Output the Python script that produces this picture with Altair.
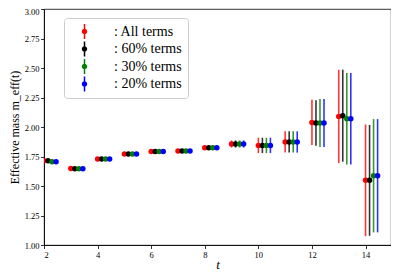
import altair as alt
import pandas as pd

# ---- data ----
t_values = [2, 3, 4, 5, 6, 7, 8, 9, 10, 11, 12, 13, 14]
series_names = ["All terms", "60% terms", "30% terms", "20% terms"]
series_colors = ["#ff0000", "#000000", "#008000", "#0000ff"]
series_shift = [0.0, 0.15, 0.30, 0.45]

m_all = [1.714, 1.649, 1.729, 1.771, 1.793, 1.796, 1.825, 1.856, 1.844, 1.873, 2.039, 2.090, 1.548]
m_60 = [1.714, 1.646, 1.729, 1.771, 1.793, 1.796, 1.825, 1.856, 1.844, 1.873, 2.034, 2.096, 1.548]
m_30 = [1.706, 1.646, 1.729, 1.771, 1.793, 1.796, 1.825, 1.856, 1.844, 1.873, 2.034, 2.070, 1.587]
m_20 = [1.706, 1.646, 1.729, 1.771, 1.793, 1.796, 1.825, 1.856, 1.844, 1.873, 2.034, 2.070, 1.587]

e_all = [0.005, 0.005, 0.006, 0.007, 0.008, 0.009, 0.012, 0.030, 0.065, 0.090, 0.192, 0.395, 0.473]
e_60 = [0.005, 0.005, 0.006, 0.007, 0.008, 0.009, 0.012, 0.030, 0.065, 0.090, 0.192, 0.390, 0.470]
e_30 = [0.005, 0.005, 0.006, 0.007, 0.008, 0.009, 0.012, 0.030, 0.065, 0.090, 0.203, 0.388, 0.480]
e_20 = [0.005, 0.005, 0.006, 0.007, 0.008, 0.009, 0.012, 0.030, 0.065, 0.090, 0.203, 0.388, 0.480]

x_ticks = [2, 4, 6, 8, 10, 12, 14]
y_ticks = [1.00, 1.25, 1.50, 1.75, 2.00, 2.25, 2.50, 2.75, 3.00]

rows = []
for name, shift, ms, es in zip(series_names, series_shift,
                               [m_all, m_60, m_30, m_20],
                               [e_all, e_60, e_30, e_20]):
    for t, m, e in zip(t_values, ms, es):
        rows.append({"series": name, "x": t + shift, "m": m,
                     "lo": m - e, "hi": m + e})
df = pd.DataFrame(rows)

FONT = "Liberation Serif"

xs = alt.Scale(domain=[2, 14.95], nice=False, zero=False)
ys = alt.Scale(domain=[1, 3], nice=False, zero=False)
cs = alt.Scale(domain=series_names, range=series_colors)

legend = alt.Legend(
    title=None, orient="none", legendX=20, legendY=9,
    labelExpr="': ' + datum.label",
    labelFont=FONT, labelFontSize=14, labelColor="#000",
    symbolType="M-0.1,-1L0.1,-1L0.1,1L-0.1,1ZM0.36,0A0.36,0.36,0,1,1,-0.36,0A0.36,0.36,0,1,1,0.36,0Z",
    symbolSize=225, symbolStrokeWidth=0, symbolOpacity=1,
    fillColor="white", strokeColor="#cccccc", cornerRadius=3,
    padding=6, rowPadding=2.5, symbolOffset=7, labelOffset=22,
)

x_enc = alt.X("x:Q", scale=xs, axis=alt.Axis(values=x_ticks, title="t", format="d"))
y_axis = alt.Axis(
    values=y_ticks, format=".2f", title="Effective mass m_eff(t)",
    labelOffset={"condition": {"test": "datum.value >= 2.99", "value": 2}, "value": 0},
)

pts = alt.Chart(df).mark_point(filled=True, size=30, opacity=1, clip=True).encode(
    x=x_enc,
    y=alt.Y("m:Q", scale=ys, axis=y_axis),
    color=alt.Color("series:N", scale=cs, legend=legend),
)

bars = alt.Chart(df).mark_rule(strokeWidth=1.6, opacity=0.8, clip=True).encode(
    x=x_enc,
    y=alt.Y("lo:Q", scale=ys, axis=y_axis),
    y2="hi:Q",
    color=alt.Color("series:N", scale=cs, legend=legend),
)

chart = alt.layer(bars, pts).properties(
    width=347, height=236,
    autosize=alt.AutoSizeParams(type="none"),
    padding={"left": 36, "top": 1, "right": 0, "bottom": 27},
).configure_view(
    stroke="#000", strokeWidth=0.8
).configure_axis(
    grid=False, domainColor="#000", domainWidth=0.8,
    tickColor="#000", tickWidth=0.8, tickSize=3.5,
    labelFont=FONT, labelFontSize=8.5, labelColor="#000", labelPadding=1.5,
    titleFont=FONT, titleColor="#000", titleFontWeight="normal",
).configure_axisX(
    titleFontSize=13, titleFontStyle="italic", titlePadding=0,
).configure_axisY(
    titleFontSize=12, titlePadding=3,
)

chart.save("out.html", embed_options={"renderer": "svg", "actions": False})
